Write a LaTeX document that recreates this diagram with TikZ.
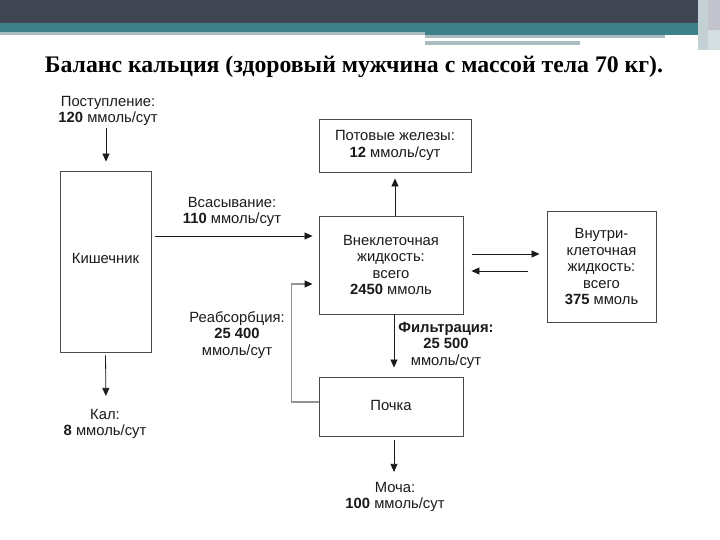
\documentclass[tikz,border=0pt]{standalone}
\usepackage{fontspec}
\setmainfont{Liberation Serif}
\newfontfamily\diagfont{Liberation Sans}
\usetikzlibrary{arrows.meta,calc}
\definecolor{hdark}{HTML}{404554}
\definecolor{hteal}{HTML}{3F8189}
\definecolor{hlight}{HTML}{A9BDC1}
\definecolor{hgrey}{HTML}{C3C3CE}
\definecolor{ink}{HTML}{1A1A1A}
\definecolor{boxline}{HTML}{4A4A4A}
\tikzset{
  box/.style={draw=boxline, line width=0.9pt, rectangle, inner sep=0pt, align=center, text=ink,
    font=\diagfont\fontsize{14.8}{16.5}\selectfont},
  lbl/.style={align=center, text=ink, inner sep=1pt, font=\diagfont\fontsize{14.8}{16.5}\selectfont},
  arr/.style={draw=ink, line width=0.8pt, -{Triangle[width=7pt,length=8pt]}},
  reab/.style={draw=gray!85, line width=1.3pt, -{Triangle[width=7pt,length=8pt,color=ink]}}
}
\begin{document}
\begin{tikzpicture}[x=1pt,y=-1pt]
\useasboundingbox (0,0) rectangle (720,540);
\fill[white] (0,0) rectangle (720,540);
% header
\fill[hdark] (0,0) rectangle (720,23);
\fill[hteal] (0,23) rectangle (708,32);
\fill[hlight] (0,32) rectangle (425,35);
\fill[hteal] (425,32) rectangle (700,35);
\fill[hlight] (425,35) rectangle (665,38);
\fill[hlight] (425,41) rectangle (580,45);
\fill[hlight!70] (698,0) rectangle (708,50);
\fill[hgrey] (708,0) rectangle (720,30);
\fill[hlight!50] (708,30) rectangle (720,50);
% title
\node[text=black, inner sep=0pt] (title) at (354,67) {\resizebox{618pt}{!}{\bfseries Баланс кальция (здоровый мужчина с массой тела 70 кг).}};
% boxes
\node[box, minimum width=91pt, minimum height=181pt] (kish) at (105.5,261.5) {\raisebox{7pt}{Кишечник}};
\node[box, minimum width=152pt, minimum height=53pt] (pot) at (395,145.5) {Потовые железы:\\\textbf{12} ммоль/сут};
\node[box, minimum width=144pt, minimum height=98pt] (ext) at (391,265) {Внеклеточная\\жидкость:\\всего\\\textbf{2450} ммоль};
\node[box, minimum width=109pt, minimum height=111pt] (intr) at (601.5,266.5) {Внутри-\\клеточная\\жидкость:\\всего\\\textbf{375} ммоль};
\node[box, minimum width=144pt, minimum height=59pt] (poch) at (391,406.5) {\raisebox{2pt}{Почка}};
% labels
\node[lbl] (inl) at (108,111) {Поступление:\\\textbf{120} ммоль/сут};
\node[lbl] (vsas) at (232,212) {Всасывание:\\\textbf{110} ммоль/сут};
\node[lbl] (kal) at (105,424) {Кал:\\\textbf{8} ммоль/сут};
\node[lbl] (reabl) at (237,335) {Реабсорбция:\\\textbf{25 400}\\ммоль/сут};
\node[lbl] (filt) at (446,345) {\textbf{Фильтрация:}\\\textbf{25 500}\\ммоль/сут};
\node[lbl] (moch) at (395,497) {Моча:\\\textbf{100} ммоль/сут};
% connectors
\draw[arr, shorten <=1pt, shorten >=9pt] ([xshift=-2pt]inl.south) -- ([xshift=0.5pt]kish.north);
\draw[arr, shorten <=4pt, shorten >=6pt] ([yshift=25.5pt]kish.east) -- ([yshift=29pt]ext.west);
\draw[arr, shorten <=3pt, shorten >=12pt] (kish.south) -- ([xshift=0.5pt]kish.south |- kal.north);
\draw[arr, shorten >=6pt] ([xshift=4pt]ext.north) -- (pot.south);
\draw[arr, shorten <=9pt, shorten >=7pt] ([yshift=11pt]ext.east) -- ([yshift=12.5pt]intr.west);
\draw[arr, shorten <=19pt, shorten >=8pt] ([yshift=-4.5pt]intr.west) -- ([yshift=-6pt]ext.east);
\draw[arr, shorten >=9pt] ([xshift=3pt]ext.south) -- ([xshift=3pt]poch.north);
\draw[arr, shorten <=4pt, shorten >=9pt] ([xshift=3pt]poch.south) -- ([xshift=3pt]poch.south |- moch.north);
\draw[reab, shorten >=6pt] ([yshift=4.5pt]poch.west) -- ++(-27,0) |- ([yshift=-19pt]ext.west);
\end{tikzpicture}
\end{document}
